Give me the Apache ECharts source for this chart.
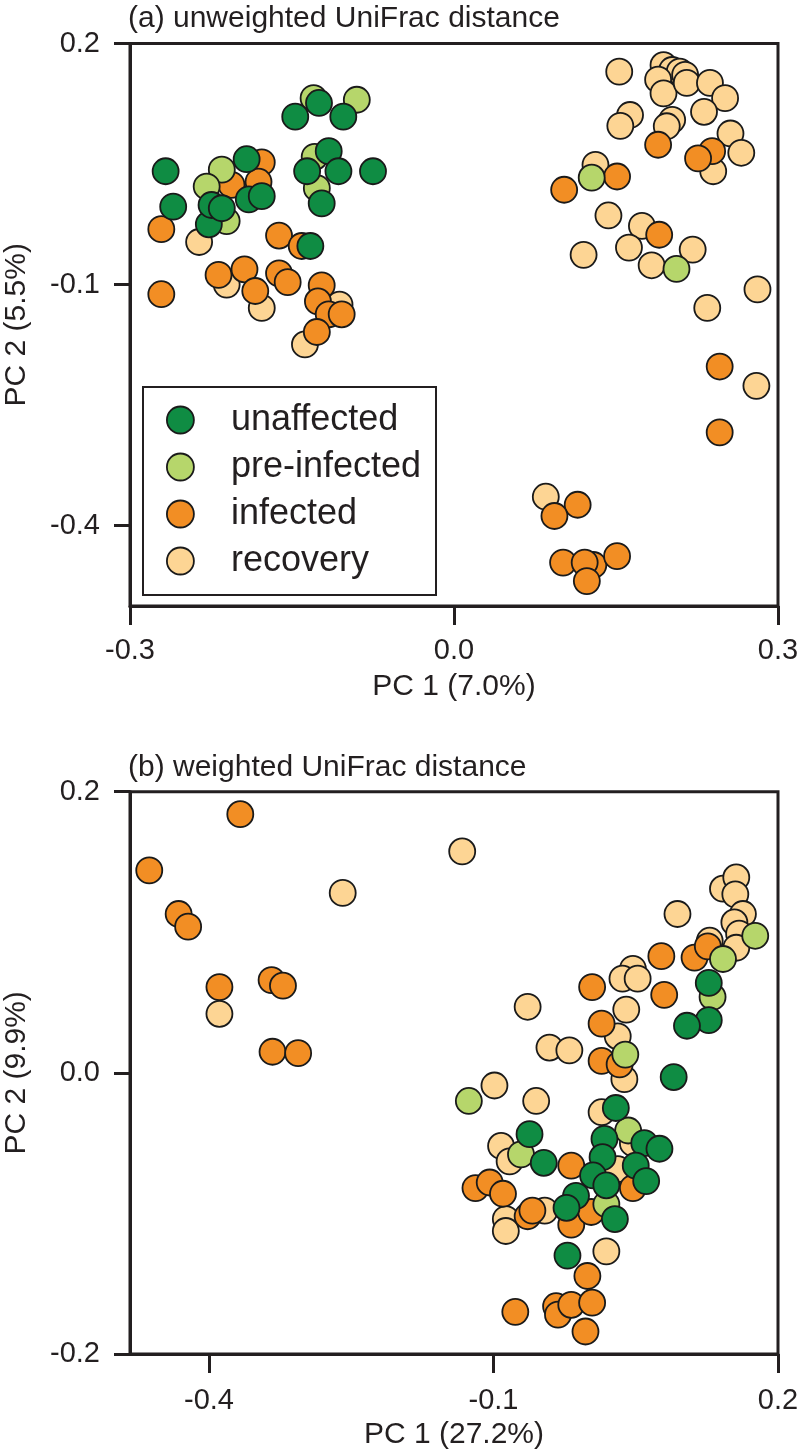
<!DOCTYPE html>
<html>
<head>
<meta charset="utf-8">
<script src="https://cdn.jsdelivr.net/npm/echarts@6/dist/echarts.min.js"></script>
<style>
html,body{margin:0;padding:0;background:#fff;}
#chart{width:800px;height:1453px;}
</style>
</head>
<body>
<div id="chart"></div>
<script>
// ---------- DATA ----------
const groupNames = ['unaffected', 'pre-infected', 'infected', 'recovery'];
const panelTitles = ['(a) unweighted UniFrac distance', '(b) weighted UniFrac distance'];
const xAxisNames = ['PC 1 (7.0%)', 'PC 1 (27.2%)'];
const yAxisNames = ['PC 2 (5.5%)', 'PC 2 (9.9%)'];
const xTicksA = [-0.3, 0.0, 0.3];
const yTicksA = [-0.4, -0.1, 0.2];
const xTicksB = [-0.4, -0.1, 0.2];
const yTicksB = [-0.2, 0.0, 0.2];

// Panel (a) unweighted UniFrac
const unaffectedA = [[-0.267,0.041],[-0.260,-0.003],[-0.227,-0.025],[-0.2245,-0.001],[-0.215,-0.005],[-0.190,0.006],[-0.192,0.056],[-0.178,0.010],[-0.147,0.109],[-0.125,0.126],[-0.1025,0.109],[-0.136,0.041],[-0.116,0.066],[-0.107,0.041],[-0.075,0.041],[-0.1225,0.001],[-0.133,-0.052]];
const preInfectedA = [[-0.130,0.132],[-0.090,0.130],[-0.215,0.043],[-0.229,0.022],[-0.129,0.059],[-0.127,0.020],[-0.2105,-0.021],[0.1275,0.033],[0.206,-0.0805]];
const infectedA = [[-0.178,0.052],[-0.181,0.028],[-0.206,0.024],[-0.271,-0.031],[-0.162,-0.039],[-0.141,-0.052],[-0.218,-0.088],[-0.194,-0.081],[-0.184,-0.108],[-0.162,-0.086],[-0.154,-0.097],[-0.1225,-0.101],[-0.271,-0.112],[-0.126,-0.121],[-0.116,-0.137],[-0.104,-0.137],[-0.127,-0.159],[0.189,0.074],[0.239,0.066],[0.226,0.057],[0.151,0.0345],[0.102,0.018],[0.190,-0.038],[0.246,-0.202],[0.246,-0.284],[0.1145,-0.374],[0.093,-0.388],[0.101,-0.446],[0.129,-0.449],[0.121,-0.446],[0.123,-0.469],[0.151,-0.438]];
const recoveryA = [[-0.236,-0.047],[-0.2105,-0.100],[-0.178,-0.129],[-0.106,-0.125],[-0.138,-0.1745],[0.153,0.165],[0.194,0.173],[0.202,0.167],[0.209,0.165],[0.189,0.155],[0.214,0.161],[0.194,0.138],[0.2155,0.151],[0.237,0.151],[0.251,0.132],[0.2315,0.115],[0.163,0.111],[0.154,0.0975],[0.202,0.105],[0.197,0.097],[0.256,0.088],[0.266,0.064],[0.240,0.041],[0.131,0.049],[0.143,-0.014],[0.174,-0.027],[0.162,-0.054],[0.120,-0.063],[0.221,-0.0565],[0.183,-0.076],[0.281,-0.106],[0.2345,-0.129],[0.280,-0.226],[0.085,-0.364]];

// Panel (b) weighted UniFrac
const unaffectedB = [[0.127,0.064],[0.127,0.0375],[0.104,0.0335],[0.090,-0.003],[-0.062,-0.0436],[-0.047,-0.064],[0.029,-0.025],[0.017,-0.047],[0.015,-0.060],[0.005,-0.073],[0.019,-0.080],[-0.013,-0.0875],[-0.023,-0.096],[0.059,-0.050],[0.075,-0.054],[0.050,-0.066],[0.061,-0.077],[0.028,-0.104],[-0.022,-0.130]];
const preInfectedB = [[0.176,0.0975],[0.142,0.081],[0.131,0.054],[0.039,0.013],[-0.126,-0.020],[-0.071,-0.058],[0.042,-0.041],[0.019,-0.0935]];
const infectedB = [[-0.367,0.184],[-0.463,0.144],[-0.432,0.113],[-0.422,0.104],[-0.389,0.061],[-0.334,0.066],[-0.322,0.062],[-0.333,0.015],[-0.306,0.014],[0.004,0.061],[0.077,0.083],[0.080,0.0555],[0.112,0.082],[0.126,0.090],[0.014,0.035],[0.014,0.0085],[0.033,0.006],[-0.018,-0.066],[-0.119,-0.082],[-0.104,-0.078],[-0.090,-0.086],[-0.064,-0.102],[-0.059,-0.098],[-0.018,-0.108],[0.003,-0.099],[0.047,-0.082],[-0.001,-0.1445],[-0.077,-0.170],[-0.034,-0.166],[-0.032,-0.172],[-0.018,-0.165],[0.004,-0.1635],[-0.003,-0.184]];
const recoveryB = [[-0.259,0.128],[-0.389,0.042],[-0.133,0.1575],[0.094,0.113],[0.142,0.131],[0.156,0.139],[0.155,0.127],[0.163,0.113],[0.154,0.107],[0.159,0.099],[0.156,0.089],[0.128,0.094],[0.047,0.074],[0.036,0.067],[0.052,0.067],[0.040,0.045],[0.031,0.026],[-0.064,0.047],[-0.041,0.018],[-0.020,0.016],[0.038,-0.0045],[-0.099,-0.009],[-0.055,-0.020],[-0.092,-0.052],[-0.083,-0.063],[0.014,-0.028],[0.031,-0.0685],[-0.087,-0.104],[-0.087,-0.1125],[-0.046,-0.098],[0.019,-0.127],[0.047,-0.050]];

// ---------- STYLE ----------
const INK = '#231f20';
const FONT = '"Liberation Sans", Arial, Helvetica, sans-serif';
const groupColors = {
  'unaffected': '#0f8c43',
  'pre-infected': '#b6d66b',
  'infected': '#f28e24',
  'recovery': '#fdd594'
};
const fmt = v => (Math.abs(v) < 1e-9 ? 0 : v).toFixed(1);

function xAxisCfg(idx, min, max, ticks, name, labelMargin) {
  return {
    gridIndex: idx, type: 'value', min: min, max: max,
    name: name, nameLocation: 'middle', nameGap: 66,
    nameTextStyle: { fontSize: 30, color: INK, fontFamily: FONT },
    axisLine: { show: true, onZero: false, lineStyle: { color: INK, width: 3 } },
    axisTick: { show: true, inside: false, length: 19, customValues: ticks, lineStyle: { color: INK, width: 3 } },
    axisLabel: { show: true, customValues: ticks, formatter: fmt, margin: labelMargin, fontSize: 29, color: INK, fontFamily: FONT },
    splitLine: { show: false }
  };
}
function yAxisCfg(idx, min, max, ticks, name) {
  return {
    gridIndex: idx, type: 'value', min: min, max: max,
    name: name, nameLocation: 'middle', nameGap: 98,
    nameTextStyle: { fontSize: 30, color: INK, fontFamily: FONT },
    axisLine: { show: true, onZero: false, lineStyle: { color: INK, width: 3 } },
    axisTick: { show: true, inside: false, length: 16, customValues: ticks, lineStyle: { color: INK, width: 3 } },
    axisLabel: { show: true, customValues: ticks, formatter: fmt, margin: 30, fontSize: 29, color: INK, fontFamily: FONT },
    splitLine: { show: false }
  };
}
function scatter(name, data, idx) {
  return {
    name: name, type: 'scatter', xAxisIndex: idx, yAxisIndex: idx,
    data: data, symbol: 'circle', symbolSize: 26,
    itemStyle: { color: groupColors[name], borderColor: '#1a1a1a', borderWidth: 1.8, opacity: 1 },
    emphasis: { disabled: true }
  };
}

const chart = echarts.init(document.getElementById('chart'), null, { renderer: 'canvas' });
chart.setOption({
  backgroundColor: '#ffffff',
  animation: false,
  textStyle: { fontFamily: FONT },
  title: [
    { text: panelTitles[0], left: 128, top: 4, padding: 0, textStyle: { fontSize: 30, fontWeight: 'normal', color: INK, fontFamily: FONT } },
    { text: panelTitles[1], left: 128, top: 753, padding: 0, textStyle: { fontSize: 30, fontWeight: 'normal', color: INK, fontFamily: FONT } }
  ],
  grid: [
    { left: 130, right: 22, top: 43.5, bottom: 847, show: true, borderColor: INK, borderWidth: 3, backgroundColor: 'transparent', containLabel: false, outerBoundsMode: 'none' },
    { left: 130, right: 22, top: 791.7, bottom: 99, show: true, borderColor: INK, borderWidth: 3, backgroundColor: 'transparent', containLabel: false, outerBoundsMode: 'none' }
  ],
  xAxis: [
    xAxisCfg(0, -0.3, 0.3, xTicksA, xAxisNames[0], 30),
    xAxisCfg(1, -0.4833, 0.2, xTicksB, xAxisNames[1], 32)
  ],
  yAxis: [
    yAxisCfg(0, -0.5, 0.2, yTicksA, yAxisNames[0]),
    yAxisCfg(1, -0.2, 0.2, yTicksB, yAxisNames[1])
  ],
  legend: {
    data: groupNames,
    orient: 'vertical',
    left: 143, top: 387,
    padding: [15, 15, 16, 23],
    itemWidth: 27, itemHeight: 27, itemGap: 11,
    icon: 'circle',
    borderColor: INK, borderWidth: 2, backgroundColor: '#ffffff',
    itemStyle: { borderColor: '#1a1a1a', borderWidth: 1.8 },
    textStyle: { fontSize: 36, lineHeight: 36, color: INK, fontFamily: FONT, padding: [0, 0, 0, 32] },
    selectedMode: false
  },
  series: [
    scatter('recovery', recoveryA, 0),
    scatter('infected', infectedA, 0),
    scatter('pre-infected', preInfectedA, 0),
    scatter('unaffected', unaffectedA, 0),
    scatter('recovery', recoveryB, 1),
    scatter('infected', infectedB, 1),
    scatter('pre-infected', preInfectedB, 1),
    scatter('unaffected', unaffectedB, 1)
  ]
});
</script>
</body>
</html>
